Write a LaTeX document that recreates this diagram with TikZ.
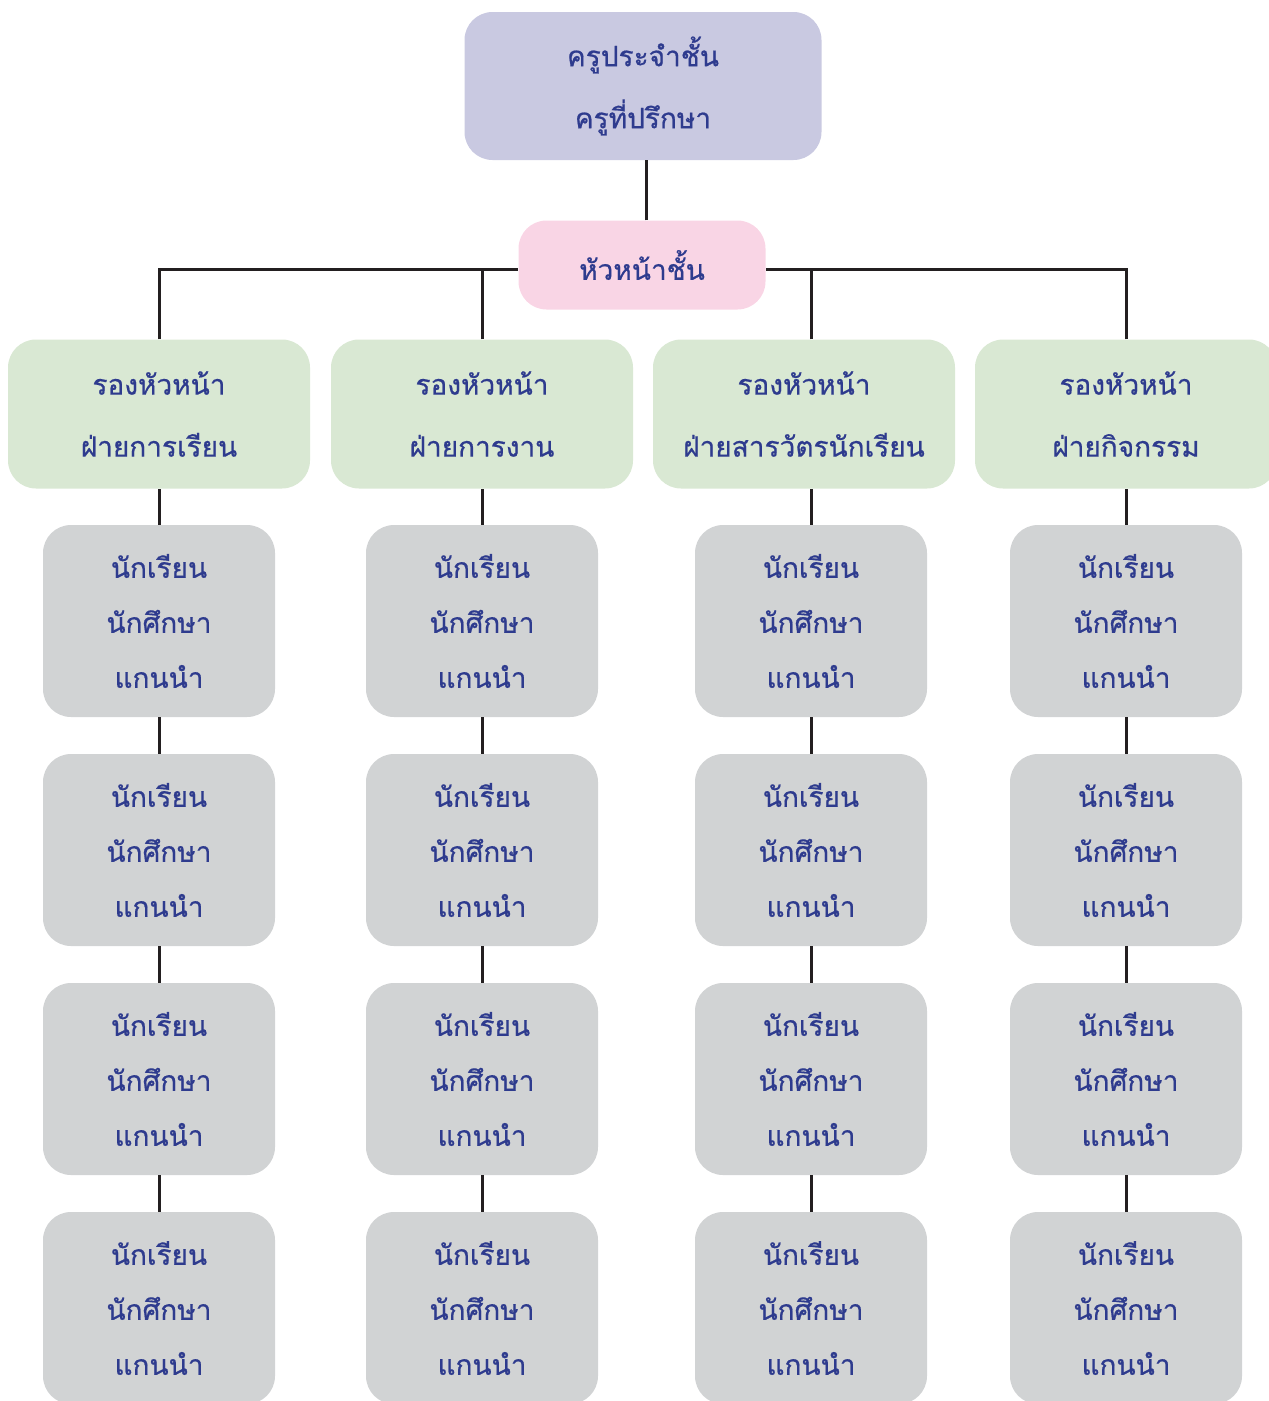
\documentclass[tikz,border=0pt]{standalone}
\usepackage{fontspec}
\newfontfamily\thaifont[Script=Thai,FakeBold=0.6]{Loma}
\definecolor{txtblue}{HTML}{2E3B8E}
\definecolor{lavbox}{HTML}{C9C9E1}
\definecolor{pinkbox}{HTML}{F9D5E5}
\definecolor{greenbox}{HTML}{D9E8D3}
\definecolor{greybox}{HTML}{D1D3D4}
\definecolor{linedark}{HTML}{231F20}
\begin{document}
\begin{tikzpicture}[x=1pt,y=-1pt,
  box/.style={rounded corners=28pt,inner sep=0pt,align=center,text=txtblue},
  teacher/.style={box,fill=lavbox,minimum width=357pt,minimum height=148pt,font=\thaifont\fontsize{28}{62}\selectfont},
  leader/.style={box,fill=pinkbox,minimum width=247pt,minimum height=89pt,font=\thaifont\fontsize{28}{62}\selectfont},
  deputy/.style={box,fill=greenbox,minimum width=302pt,minimum height=149pt,font=\thaifont\fontsize{28}{62}\selectfont},
  student/.style={box,fill=greybox,minimum width=232pt,minimum height=192pt,font=\thaifont\fontsize{28}{55}\selectfont},
  link/.style={draw=linedark,line width=3pt}]
\useasboundingbox (0,0) rectangle (1269,1401);
\node[teacher] (teach) at (643,86) {ครูประจำชั้น\\ครูที่ปรึกษา};
\node[leader] (head) at (642,265) {หัวหน้าชั้น};
\coordinate (bar) at ([yshift=-4pt]head.center);
\draw[link] (head.north -| 646,0) -- (teach.south -| 646,0);
\foreach \i/\xd/\xs/\t in {1/159/159/ฝ่ายการเรียน,2/482/482/ฝ่ายการงาน,3/804/811/ฝ่ายสารวัตรนักเรียน,4/1126/1126/ฝ่ายกิจกรรม}{
  \node[deputy] (dep\i) at (\xd,414) {รองหัวหน้า\\\t};
  \foreach \j/\y in {1/621,2/850,3/1079,4/1308}
    \node[student] (st\i-\j) at (\xs,\y) {นักเรียน\\นักศึกษา\\แกนนำ};
  \draw[link] (st\i-1.north) -- (st\i-1.north |- dep\i.south);
  \foreach \j/\k in {1/2,2/3,3/4}
    \draw[link] (st\i-\j.south) -- (st\i-\k.north);
}
\draw[link] (dep1.north) |- (bar -| head.west);
\draw[link] (dep4.north) |- (bar -| head.east);
\draw[link] (st2-1.north |- dep2.north) -- (st2-1.north |- bar);
\draw[link] (st3-1.north |- dep3.north) -- (st3-1.north |- bar);
\end{tikzpicture}
\end{document}
